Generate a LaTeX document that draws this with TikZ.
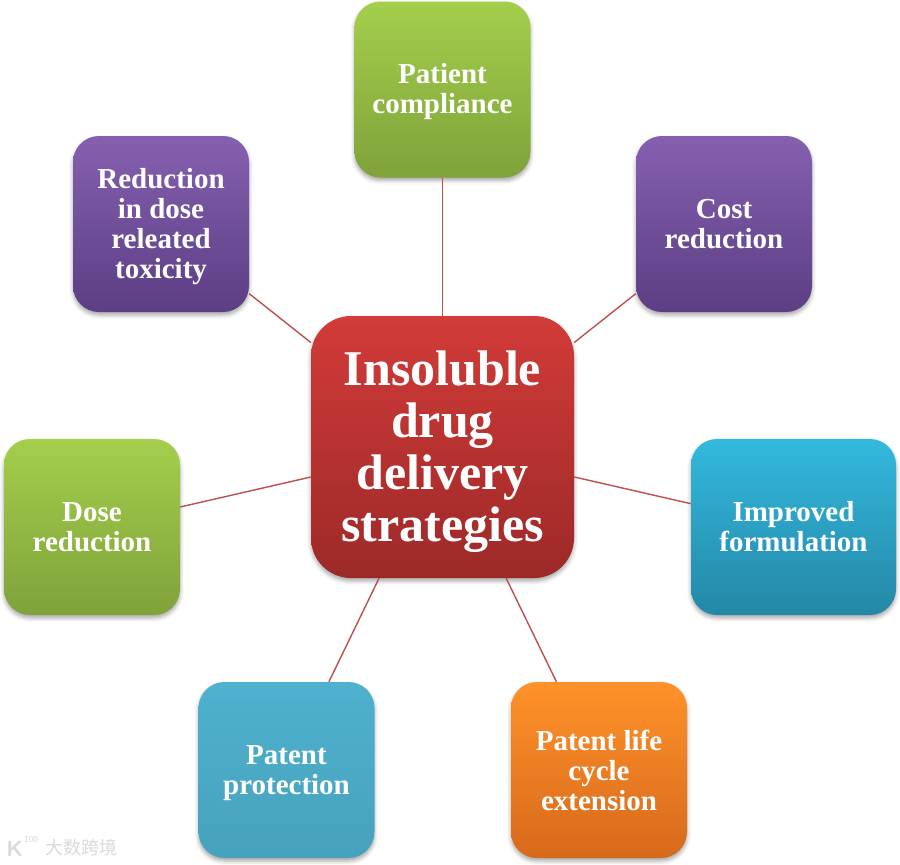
\documentclass[tikz,border=0pt]{standalone}
\usepackage{fontspec}
\setmainfont{Liberation Serif}
\newfontfamily\cjkfont{Noto Sans CJK SC}
\usetikzlibrary{shadows,shadows.blur}
\definecolor{linkred}{HTML}{BE4F4C}
\definecolor{gtop}{HTML}{A4CF4C}
\definecolor{gbot}{HTML}{7FA23A}
\definecolor{ptop}{HTML}{8560B0}
\definecolor{pbot}{HTML}{5C3E84}
\definecolor{ctop}{HTML}{33B9DE}
\definecolor{cbot}{HTML}{2487A6}
\definecolor{ttop}{HTML}{4FB1CE}
\definecolor{tbot}{HTML}{46A2BD}
\definecolor{otop}{HTML}{FF9229}
\definecolor{obot}{HTML}{D7691C}
\definecolor{rtop}{HTML}{D23B38}
\definecolor{rbot}{HTML}{9C2928}
\newcommand{\boxstrut}{\rule{0pt}{25pt}}
\newcommand{\hubstrut}{\rule{0pt}{44pt}}
\begin{document}
\begin{tikzpicture}[
x=1pt,y=-1pt,
box/.style={rectangle,rounded corners=26pt,minimum width=176pt,minimum height=176pt,inner sep=0pt,
    align=center,text=white,font=\bfseries\fontsize{29}{30}\selectfont,
    blur shadow={shadow xshift=0pt,shadow yshift=-3pt,shadow blur radius=4pt,shadow opacity=35}},
greenbox/.style={box,top color=gtop,bottom color=gbot},
purplebox/.style={box,top color=ptop,bottom color=pbot},
cyanbox/.style={box,top color=ctop,bottom color=cbot},
tealbox/.style={box,top color=ttop,bottom color=tbot},
orangebox/.style={box,top color=otop,bottom color=obot},
hub/.style={box,rounded corners=40pt,minimum width=263pt,minimum height=262pt,
    top color=rtop,bottom color=rbot,font=\bfseries\fontsize{50}{52}\selectfont},
link/.style={linkred,line width=1.4pt},
wmark/.style={inner sep=0pt,text=black!15,font=\cjkfont\fontsize{18}{18}\selectfont}
]
\useasboundingbox (0,0) rectangle (900,865);
\node (hub)[hub] at (442.5,447){\hubstrut Insoluble\\drug\\delivery\\strategies};
\node (compliance)[greenbox] at (442.5,89.5){\boxstrut Patient\\compliance};
\node (cost)[purplebox] at (724,224){Cost\\reduction};
\node (toxicity)[purplebox] at (161,224){\boxstrut Reduction\\in dose\\releated\\toxicity};
\node (dose)[greenbox] at (92,527){Dose\\reduction};
\node (formulation)[cyanbox,minimum width=205pt] at (793.5,527){Improved\\formulation};
\node (protection)[tealbox] at (286.5,770){\boxstrut Patent\\protection};
\node (lifecycle)[orangebox] at (599,770){Patent life\\cycle\\extension};
\draw[link] (hub) -- (compliance);
\draw[link] (hub) -- (cost);
\draw[link] (hub) -- (toxicity);
\draw[link] (hub) -- (dose);
\draw[link] (hub) -- (formulation);
\draw[link] (hub) -- (protection);
\draw[link] (hub) -- (lifecycle);
\node (watermark)[wmark,anchor=west] at (45,848){大数跨境};
\node (logo)[wmark,anchor=east,font=\sffamily\bfseries\fontsize{22}{22}\selectfont] at (23.5,849){K};
\node (logonum)[wmark,anchor=west,font=\sffamily\fontsize{9}{9}\selectfont] at (24,840){100};
\end{tikzpicture}
\end{document}
